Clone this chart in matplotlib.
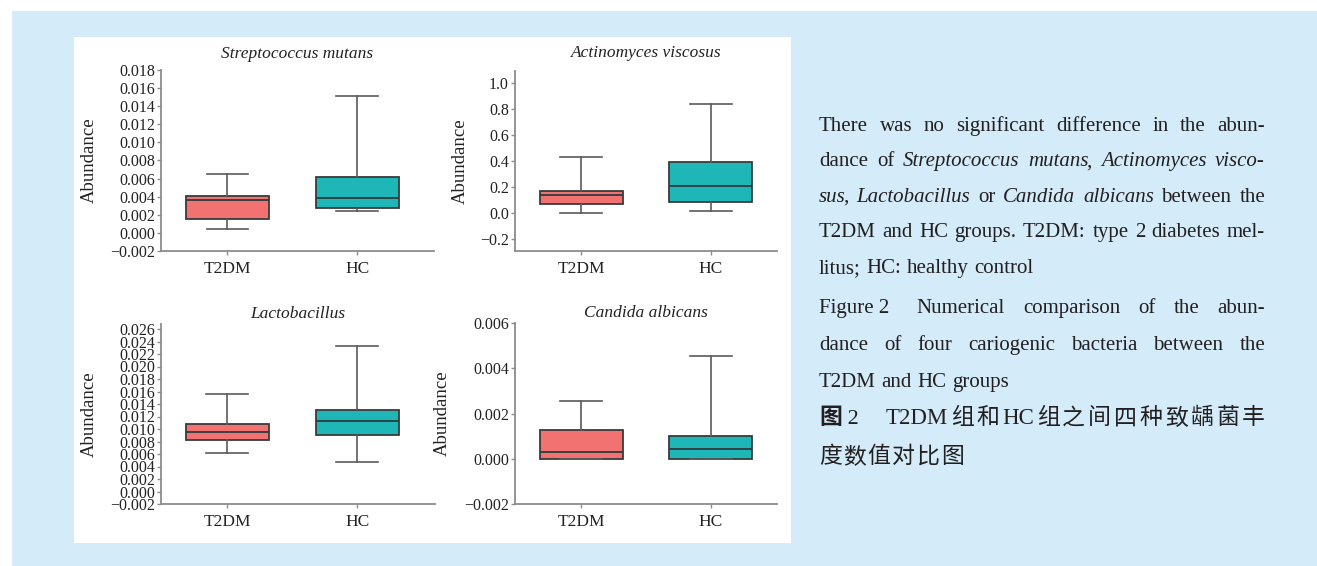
import numpy as np
import matplotlib
matplotlib.use("Agg")
import matplotlib.pyplot as plt
from matplotlib.patches import Rectangle
from matplotlib.ticker import FuncFormatter

W, H = 1317, 566

plt.rcParams["font.family"] = ["Liberation Serif", "Noto Sans CJK SC"]

groups = ["T2DM", "HC"]
box_colors = ["#f27171", "#1fb6b8"]
titles = ["Streptococcus mutans", "Actinomyces viscosus", "Lactobacillus", "Candida albicans"]

# lower whisker, Q1, median, Q3, upper whisker
strep_t2dm = [0.00047, 0.00158, 0.00368, 0.00409, 0.00649]
strep_hc = [0.00239, 0.00280, 0.00383, 0.00619, 0.01508]
actino_t2dm = [0.005, 0.069, 0.141, 0.174, 0.436]
actino_hc = [0.015, 0.087, 0.210, 0.392, 0.838]
lacto_t2dm = [0.0061, 0.00823, 0.00955, 0.01088, 0.0156]
lacto_hc = [0.00473, 0.00908, 0.0113, 0.0130, 0.0233]
candida_t2dm = [0.0, 0.0, 0.00028, 0.00129, 0.00254]
candida_hc = [0.0, 0.0, 0.00045, 0.00102, 0.00456]

strep_ticks = np.round(np.arange(-0.002, 0.0181, 0.002), 3)
actino_ticks = np.round(np.arange(-0.2, 1.01, 0.2), 1)
lacto_ticks = np.round(np.arange(-0.002, 0.0261, 0.002), 3)
candida_ticks = np.round(np.arange(-0.002, 0.0061, 0.002), 3)

fig = plt.figure(figsize=(W / 100, H / 100), dpi=100)
fig.patch.set_facecolor("white")

# backgrounds: blue caption panel and white chart panel
fig.patches.append(Rectangle((12 / W, 0), 1, 1 - 11 / H, transform=fig.transFigure,
                             facecolor="#d4ecfa", edgecolor="none", zorder=-10))
fig.patches.append(Rectangle((74 / W, 1 - 543 / H), (791 - 74) / W, (543 - 37) / H,
                             transform=fig.transFigure, facecolor="white",
                             edgecolor="none", zorder=-9))


def px_axes(left, top, right, bottom):
    return fig.add_axes([left / W, 1 - bottom / H, (right - left) / W, (bottom - top) / H])


panels = [
    dict(box=(161, 70, 434, 251), data=[strep_t2dm, strep_hc], ticks=strep_ticks,
         ylim=(-0.002, 0.018), xlim=(-0.51, 1.59), fmt="{:.3f}", label_x=98, pad=8.5),
    dict(box=(515, 71, 777, 251), data=[actino_t2dm, actino_hc], ticks=actino_ticks,
         ylim=(-0.29, 1.095), xlim=(-0.51, 1.51), fmt="{:.1f}", label_x=469, pad=10),
    dict(box=(161, 324, 435, 504), data=[lacto_t2dm, lacto_hc], ticks=lacto_ticks,
         ylim=(-0.002, 0.0268), xlim=(-0.51, 1.6), fmt="{:.3f}", label_x=98, pad=4.5),
    dict(box=(515, 323, 777, 504), data=[candida_t2dm, candida_hc], ticks=candida_ticks,
         ylim=(-0.002, 0.006), xlim=(-0.51, 1.51), fmt="{:.3f}", label_x=451, pad=4),
]

for title, p in zip(titles, panels):
    ax = px_axes(*p["box"])
    ax.set_facecolor("none")
    stats = []
    for g, d in zip(groups, p["data"]):
        stats.append(dict(whislo=d[0], q1=d[1], med=d[2], q3=d[3], whishi=d[4],
                          label=g, fliers=[]))
    bp = ax.bxp(stats, positions=[0, 1], widths=0.64, capwidths=0.32,
                patch_artist=True, showfliers=False,
                boxprops=dict(edgecolor="#3a3a3a", linewidth=1.3),
                whiskerprops=dict(color="#5a5a5a", linewidth=1.2),
                capprops=dict(color="#5a5a5a", linewidth=1.2),
                medianprops=dict(color="#2e3b3b", linewidth=1.3))
    for patch, c in zip(bp["boxes"], box_colors):
        patch.set_facecolor(c)

    ax.set_xlim(*p["xlim"])
    ax.set_ylim(*p["ylim"])
    ax.set_yticks(p["ticks"])
    fmt = p["fmt"]
    ax.yaxis.set_major_formatter(FuncFormatter(
        lambda v, pos, fmt=fmt: fmt.format(v).replace("-", "\u2212")))
    ax.set_xticks([0, 1], groups)

    for s in ["top", "right"]:
        ax.spines[s].set_visible(False)
    for s in ["left", "bottom"]:
        ax.spines[s].set_color("#8c8c8c")
        ax.spines[s].set_linewidth(1.3)
    ax.tick_params(axis="both", length=3, width=1, color="#8c8c8c", labelcolor="#222222")
    ax.tick_params(axis="y", labelsize=11.5, pad=1.5)
    ax.tick_params(axis="x", labelsize=12.5, pad=4)

    ax.set_ylabel("Abundance", fontsize=13.5, color="#222222")
    left, top, right, bottom = p["box"]
    ax.yaxis.set_label_coords((p["label_x"] - left) / (right - left), 0.5)
    ax.set_title(title, fontsize=12.5, style="italic", color="#222222", pad=p["pad"])

# caption on the right, set as justified lines
TEXT_LEFT, TEXT_RIGHT = 819, 1265
renderer = fig.canvas.get_renderer()
ink = "#231f20"
R = dict(fontsize=15, color=ink)
I = dict(fontsize=15, color=ink, style="italic")
C = dict(fontsize=16.5, color=ink)
CB = dict(fontsize=16.5, color=ink, weight="bold")
COMMA = (",", R, -2.5)   # upright comma pulled in after italic text


def words(line, props=R):
    return [[(w, props)] for w in line.split()]


def place_line(tokens, y, justify=True, space=5.5):
    placed = []  # [segments (text, width, kern), fixed gap before]
    gap_next = None
    for tok in tokens:
        if isinstance(tok, (int, float)):
            gap_next = tok
            continue
        segs = []
        for seg in tok:
            s, props = seg[0], seg[1]
            kern = seg[2] if len(seg) > 2 else 0
            t = fig.text(0, 0, s, va="baseline", ha="left", **props)
            segs.append((t, t.get_window_extent(renderer).width, kern))
        placed.append((segs, gap_next))
        gap_next = None
    total = sum(w + k for segs, _ in placed for _, w, k in segs)
    fixed = sum(g for _, g in placed[1:] if g is not None)
    n_stretch = sum(1 for _, g in placed[1:] if g is None)
    if justify and n_stretch:
        gap = (TEXT_RIGHT - TEXT_LEFT - total - fixed) / n_stretch
    else:
        gap = space
    x = TEXT_LEFT
    for i, (segs, g) in enumerate(placed):
        if i > 0:
            x += g if g is not None else gap
        for t, w, k in segs:
            x += k
            t.set_position((x / W, 1 - y / H))
            x += w


place_line(words("There was no significant difference in the abun-"), 130.7)
place_line(words("dance of") + [[("Streptococcus", I)], [("mutans", I), COMMA],
                                 [("Actinomyces", I)], [("visco-", I)]], 166.3)
place_line([[("sus", I), COMMA], [("Lactobacillus", I)], [("or", R)],
            [("Candida", I)], [("albicans", I)], [("between", R)], [("the", R)]], 201.8)
place_line(words("T2DM and HC groups. T2DM: type 2 diabetes mel-"), 237.3)
place_line(words("litus; HC: healthy control"), 272.8, justify=False)

place_line([[("Figure 2", R)], 27.5] + words("Numerical comparison of the abun-"), 312.7)
place_line(words("dance of four cariogenic bacteria between the"), 350.0)
place_line(words("T2DM and HC groups"), 387.3, justify=False)
cn_tokens = [[("图", CB), (" 2", dict(fontsize=16, color=ink))], 27, [("T2DM", C)]]
for ch in ["组", "和", "HC", "组", "之", "间", "四", "种", "致", "龋", "菌", "丰"]:
    cn_tokens.append([(ch, C)])
place_line(cn_tokens, 424.5)
place_line([[(ch, C)] for ch in "度数值对比图"], 463.0, justify=False, space=1.5)

fig.savefig("out.png", dpi=100)
